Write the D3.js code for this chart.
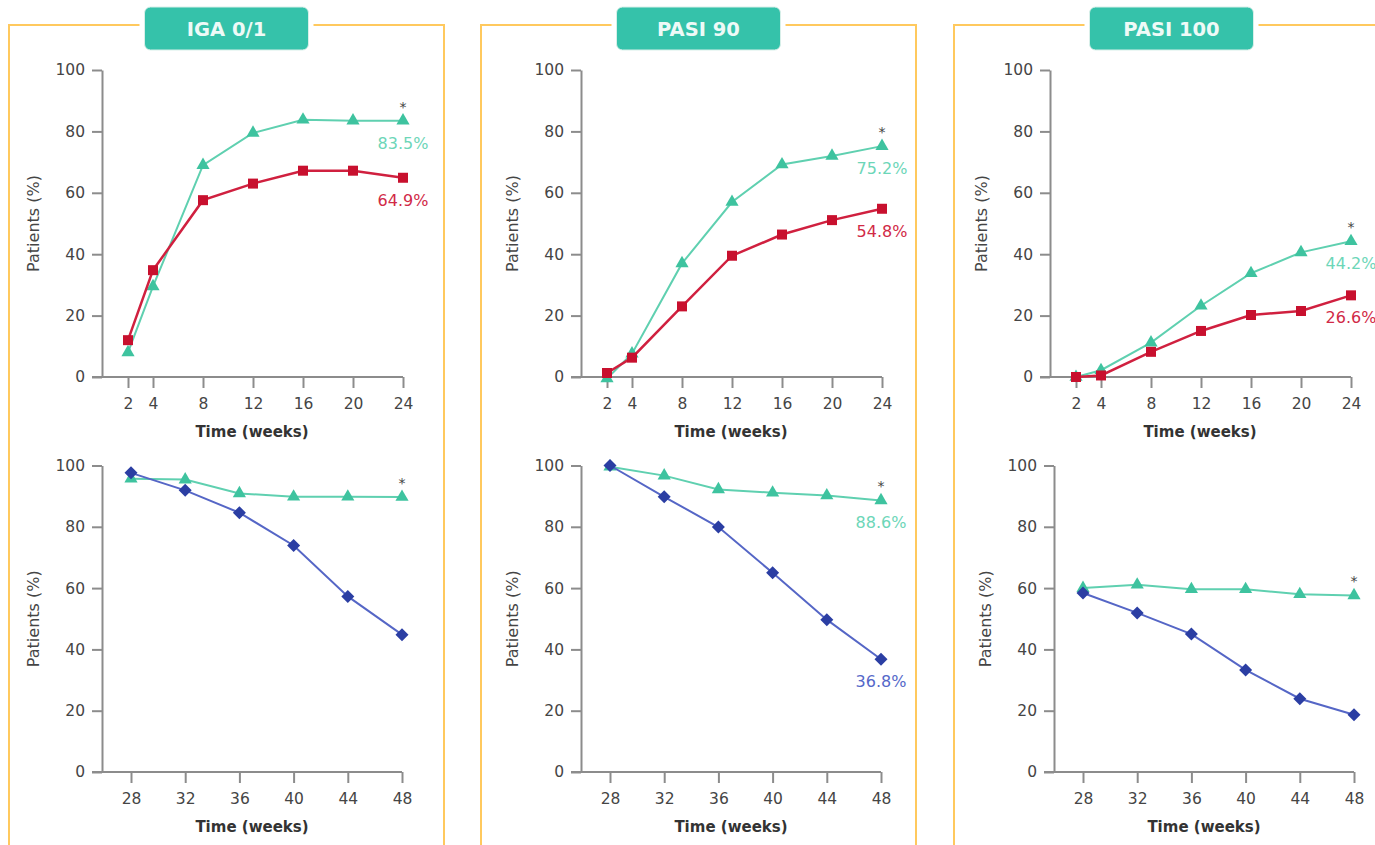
<!DOCTYPE html>
<html>
<head>
<meta charset="utf-8">
<script src="https://cdn.jsdelivr.net/npm/d3@7"></script>
<style>
  body { margin: 0; background: #fff; }
  svg { display: block; font-family: "DejaVu Sans", Verdana, sans-serif; }
</style>
</head>
<body>
<div id="wrapper"></div>
<script>
// ---- data ----
const panelTitles = ["IGA 0/1", "PASI 90", "PASI 100"];
const weeksEarly = [2, 4, 8, 12, 16, 20, 24];
const weeksLate = [28, 32, 36, 40, 44, 48];
const yTicks = [0, 20, 40, 60, 80, 100];

// weeks 2-24: teal = triangles, red = squares
const igaTeal = [8, 29.5, 69, 79.5, 83.8, 83.5, 83.5];
const igaRed = [12, 34.8, 57.6, 63, 67.2, 67.2, 64.9];
const pasi90Teal = [-0.5, 7.6, 37, 57, 69.2, 72, 75.2];
const pasi90Red = [1.3, 6.3, 23, 39.5, 46.4, 51.1, 54.8];
const pasi100Teal = [0, 2.2, 11.2, 23.2, 33.8, 40.6, 44.2];
const pasi100Red = [0, 0.5, 8.2, 15, 20.2, 21.5, 26.6];

// weeks 28-48: teal = triangles, blue = diamonds
const igaLateTeal = [95.7, 95.4, 90.9, 89.8, 89.8, 89.7];
const igaLateBlue = [97.6, 91.9, 84.6, 73.9, 57.3, 44.8];
const pasi90LateTeal = [99.6, 96.7, 92.2, 91.1, 90.2, 88.6];
const pasi90LateBlue = [100, 89.8, 79.9, 65, 49.7, 36.8];
const pasi100LateTeal = [60, 61.1, 59.6, 59.6, 58, 57.6];
const pasi100LateBlue = [58.4, 51.9, 45, 33.3, 23.9, 18.7];

const earlyTeal = [igaTeal, pasi90Teal, pasi100Teal];
const earlyRed = [igaRed, pasi90Red, pasi100Red];
const lateTeal = [igaLateTeal, pasi90LateTeal, pasi100LateTeal];
const lateBlue = [igaLateBlue, pasi90LateBlue, pasi100LateBlue];
const earlyShowLabels = [true, true, true];
const lateShowLabels = [false, true, false];

// ---- layout ----
const width = 1375, height = 845;
const frameLeft = [9, 481, 954];
const frameW = 435;
const axisTop = [102, 581, 1050];
const axisBottom = [102, 581, 1054];

const colors = {
  teal: "#3ec39f", tealLine: "#5fd0b0", tealLabel: "#6dd6b8",
  red: "#c8102e", redLine: "#d0203f", redLabel: "#d12a47",
  blue: "#2b3ea3", blueLine: "#5566c6", blueLabel: "#5568c9",
  axis: "#8c8c8c", tick: "#454545", frame: "#ffc95e", header: "#35c2aa"
};

const svg = d3.select("#wrapper").append("svg")
  .attr("width", width).attr("height", height);

// frames + headers
panelTitles.forEach((t, i) => {
  svg.append("rect")
    .attr("x", frameLeft[i]).attr("y", 25)
    .attr("width", frameW).attr("height", 900)
    .attr("fill", "none").attr("stroke", colors.frame).attr("stroke-width", 2);
  const cx = frameLeft[i] + frameW / 2;
  svg.append("rect")
    .attr("x", cx - 87).attr("y", 4).attr("width", 174).attr("height", 48)
    .attr("fill", "#fff");
  svg.append("rect")
    .attr("x", cx - 82).attr("y", 7).attr("width", 164).attr("height", 43)
    .attr("rx", 6).attr("fill", colors.header)
    .attr("stroke", "#d8efe9").attr("stroke-width", 1);
  svg.append("text")
    .attr("x", cx).attr("y", 29)
    .attr("text-anchor", "middle").attr("dominant-baseline", "central")
    .attr("fill", "#eefaf7").attr("font-weight", "bold").attr("font-size", 19.5)
    .text(t);
});

const triangle = d3.symbol().type(d3.symbolTriangle).size(75);
const square = d3.symbol().type(d3.symbolSquare).size(100);
const diamond = "M0,-6.5L6.5,0L0,6.5L-6.5,0Z";

function drawChart(cfg) {
  const x = d3.scaleLinear().domain(cfg.xDomain).range(cfg.xRange);
  const y = d3.scaleLinear().domain([0, 100]).range([cfg.y0, cfg.y100]);
  const g = svg.append("g");

  const yAxis = g.append("g")
    .attr("transform", `translate(${cfg.axisX},0)`)
    .call(d3.axisLeft(y).tickValues(yTicks).tickSize(10).tickPadding(7).tickSizeOuter(0));
  const xAxis = g.append("g")
    .attr("transform", `translate(0,${cfg.y0})`)
    .call(d3.axisBottom(x).tickValues(cfg.weeks).tickSize(11).tickPadding(10).tickSizeOuter(0));
  xAxis.select(".domain").remove();
  g.append("line")
    .attr("x1", cfg.axisX - 10).attr("x2", x(cfg.weeks[cfg.weeks.length - 1]))
    .attr("y1", cfg.y0).attr("y2", cfg.y0)
    .attr("stroke", colors.axis).attr("stroke-width", 2);

  [yAxis, xAxis].forEach(a => {
    a.selectAll("path, line").attr("stroke", colors.axis).attr("stroke-width", 2);
    a.selectAll("text").attr("fill", colors.tick).attr("font-size", 15.5)
      .attr("font-family", "DejaVu Sans, Verdana, sans-serif");
  });

  g.append("text")
    .attr("x", cfg.axisX + 150).attr("y", cfg.y0 + 60)
    .attr("text-anchor", "middle").attr("font-size", 15).attr("font-weight", "bold")
    .attr("fill", "#333").text("Time (weeks)");
  g.append("text")
    .attr("transform", `translate(${cfg.axisX - 69},${(cfg.y0 + cfg.y100) / 2}) rotate(-90)`)
    .attr("text-anchor", "middle").attr("dominant-baseline", "central")
    .attr("font-size", 16).attr("fill", colors.tick).text("Patients (%)");

  const line = d3.line().x((d, i) => x(cfg.weeks[i])).y(d => y(d));
  cfg.series.forEach(s => {
    g.append("path").datum(s.values)
      .attr("d", line).attr("fill", "none")
      .attr("stroke", s.lineColor).attr("stroke-width", s.lineWidth);
    g.selectAll(null).data(s.values).enter().append("path")
      .attr("transform", (d, i) => `translate(${x(cfg.weeks[i])},${y(d)})`)
      .attr("d", s.shape).attr("fill", s.color);
  });

  const lastX = x(cfg.weeks[cfg.weeks.length - 1]);
  const teal = cfg.series[0].values;
  g.append("text")
    .attr("x", lastX).attr("y", y(teal[teal.length - 1]) - 9)
    .attr("text-anchor", "middle").attr("font-size", 14).attr("fill", "#444")
    .text("*");

  if (cfg.showLabels) {
    cfg.series.forEach(s => {
      const v = s.values[s.values.length - 1];
      g.append("text")
        .attr("x", lastX).attr("y", y(v) + 28)
        .attr("text-anchor", "middle").attr("font-size", 16)
        .attr("fill", s.labelColor)
        .text(d3.format(".1f")(v) + "%");
    });
  }
}

panelTitles.forEach((t, i) => {
  drawChart({
    axisX: axisTop[i], y0: 377, y100: 70,
    weeks: weeksEarly, xDomain: [0, 24], xRange: [axisTop[i] + 1, axisTop[i] + 301],
    showLabels: earlyShowLabels[i],
    series: [
      { values: earlyTeal[i], color: colors.teal, lineColor: colors.tealLine, lineWidth: 2, shape: triangle, labelColor: colors.tealLabel },
      { values: earlyRed[i], color: colors.red, lineColor: colors.redLine, lineWidth: 2.5, shape: square, labelColor: colors.redLabel }
    ]
  });
  drawChart({
    axisX: axisBottom[i], y0: 772, y100: 465.5,
    weeks: weeksLate, xDomain: [28, 48], xRange: [axisBottom[i] + 29, axisBottom[i] + 300],
    showLabels: lateShowLabels[i],
    series: [
      { values: lateTeal[i], color: colors.teal, lineColor: colors.tealLine, lineWidth: 2, shape: triangle, labelColor: colors.tealLabel },
      { values: lateBlue[i], color: colors.blue, lineColor: colors.blueLine, lineWidth: 2, shape: diamond, labelColor: colors.blueLabel }
    ]
  });
});
</script>
</body>
</html>
